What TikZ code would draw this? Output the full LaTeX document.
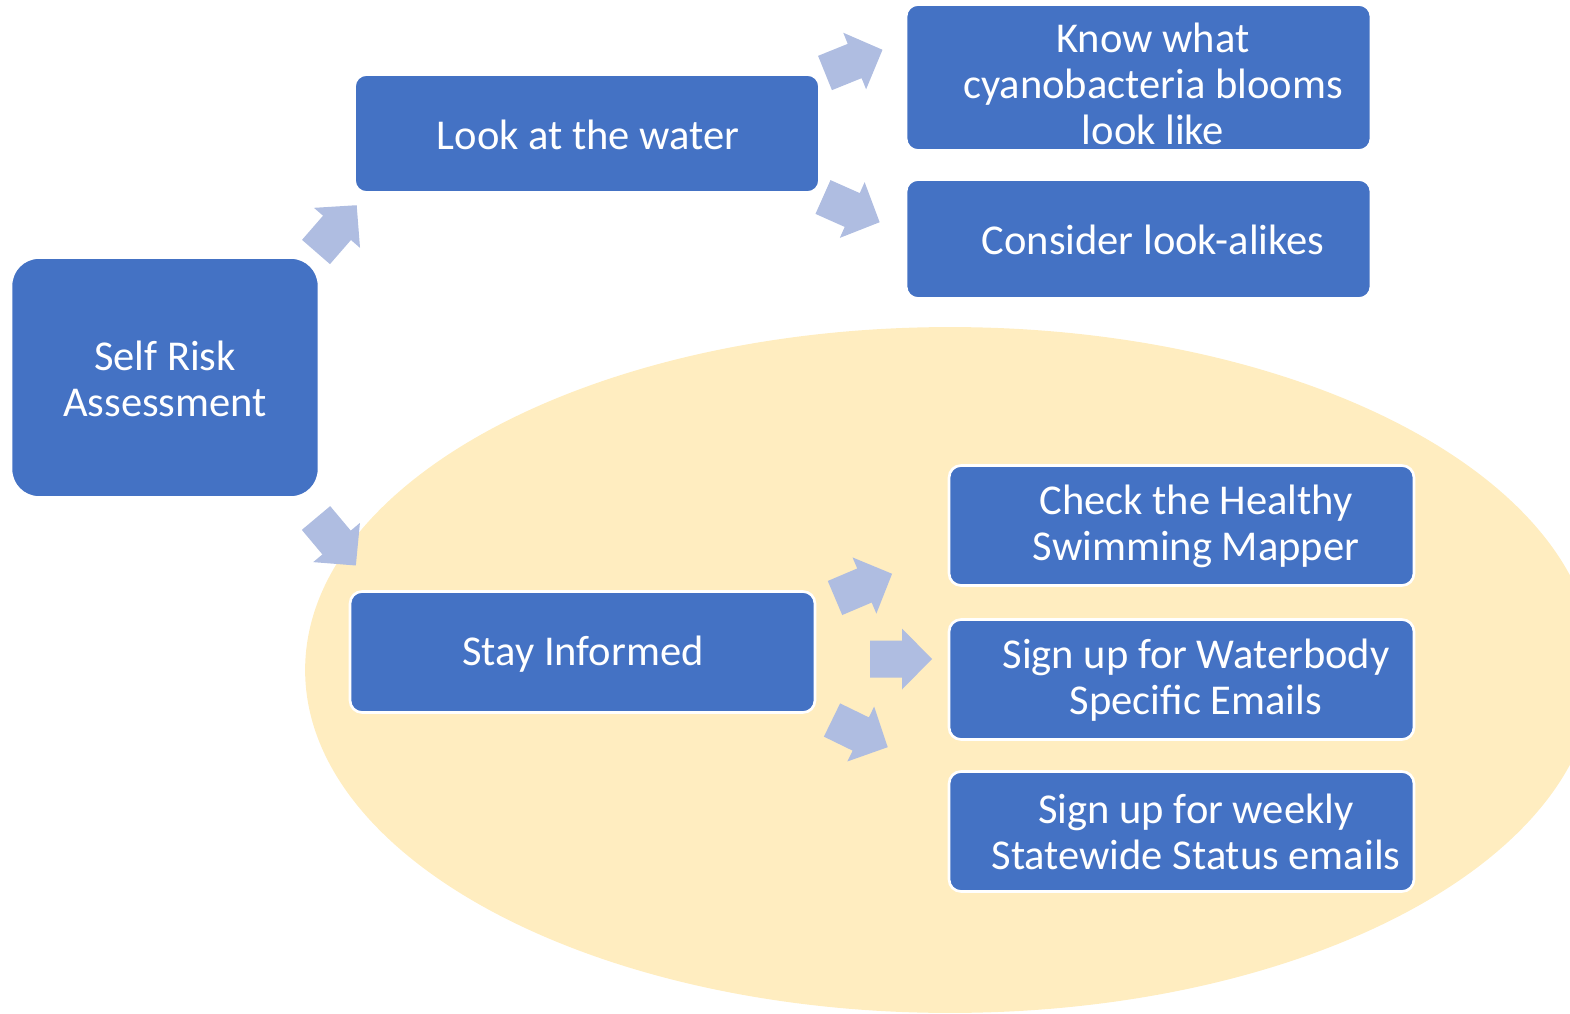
\documentclass[tikz,border=0pt]{standalone}
\usepackage{fontspec}
\setmainfont{Carlito}
\definecolor{boxblue}{HTML}{4472C4}
\definecolor{arrfill}{HTML}{AFBDE1}
\definecolor{ovalfill}{HTML}{FFEDC0}
\newcommand\blockarr[3]{\fill[arrfill, shift={(#1,#2)}, rotate=#3] (0,-18.5) -- (32,-18.5) -- (32,-30.5) -- (62,0) -- (32,30.5) -- (32,18.5) -- (0,18.5) -- cycle;}
\tikzset{
  box/.style={fill=boxblue, draw=white, line width=1.5pt, inner sep=0pt, rounded corners=0.24cm, minimum width=9.3cm},
  lbl/.style={text=white, align=center, inner sep=0pt, font=\fontsize{24.2}{26.2}\selectfont}
}
\begin{document}
\begin{tikzpicture}[x=0.02cm, y=-0.02cm]
\useasboundingbox (0,0) rectangle (1570,1014);
\clip (0,0) rectangle (1570,1014);
\fill[ovalfill] (950,670) ellipse [x radius=12.9cm, y radius=6.86cm];
% boxes
\node[box, rounded corners=0.56cm, minimum width=6.16cm, minimum height=4.8cm] (self) at (165,377.5) {};
\node[box, minimum height=2.36cm] (look) at (587,133.5) {};
\node[box, minimum height=2.92cm] (know) at (1138.5,77.5) {};
\node[box, minimum height=2.38cm] (consider) at (1138.5,239) {};
\node[box, minimum height=2.42cm] (stay) at (582.5,652) {};
\node[box, minimum height=2.4cm] (check) at (1181.5,525.5) {};
\node[box, minimum height=2.4cm] (water) at (1181.5,679.5) {};
\node[box, minimum height=2.4cm] (weekly) at (1181.5,831.5) {};
% labels
\node[lbl] (selfT) at (165,379) {Self Risk\\Assessment};
\node[lbl] (lookT) at (588,135) {Look at the water};
\node[lbl] (knowT) at (1153,84) {Know what\\cyanobacteria blooms\\look like};
\node[lbl] (considerT) at (1153,240) {Consider look-alikes};
\node[lbl] (stayT) at (583,654) {Stay Informed};
\node[lbl] (checkT) at (1196,526) {Check the Healthy\\Swimming Mapper};
\node[lbl] (waterT) at (1196,680) {Sign up for Waterbody\\Specific Emails};
\node[lbl] (weeklyT) at (1196,832) {Sign up for weekly\\Statewide Status emails};
% block arrows
\blockarr{316}{252}{49}
\blockarr{316}{518}{-50}
\blockarr{825}{73}{22}
\blockarr{823}{197}{-24}
\blockarr{835}{598}{23}
\blockarr{870}{659}{0}
\blockarr{832}{720}{-26}
\end{tikzpicture}
\end{document}
